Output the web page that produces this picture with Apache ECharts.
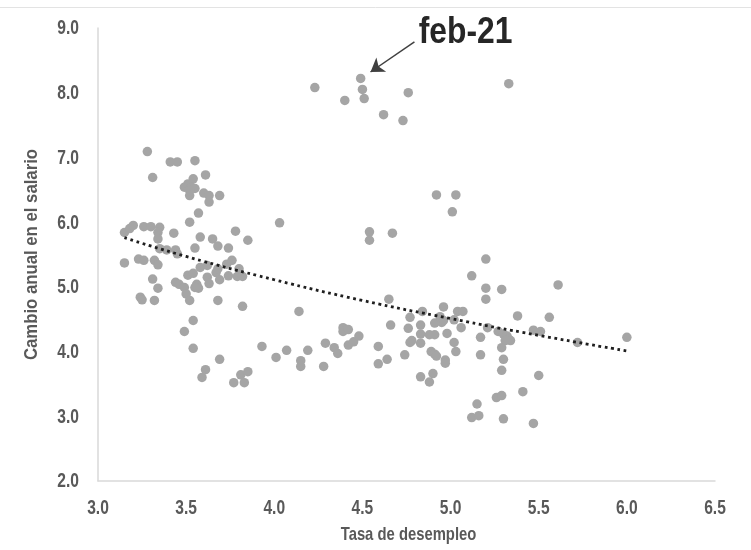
<!DOCTYPE html>
<html>
<head>
<meta charset="utf-8">
<script src="https://cdn.jsdelivr.net/npm/echarts@6/dist/echarts.min.js"></script>
<style>
html,body{margin:0;padding:0;background:#fff;}
#chart{width:751px;height:550px;}
</style>
</head>
<body>
<div id="chart"></div>
<script>
// Tasa de desempleo (x) and Cambio anual en el salario (y)
var unemp = [
3.28,3.41,3.45,3.55,3.31,3.54,3.61,3.49,3.51,3.53,3.55,3.52,3.52,3.60,3.63,3.63,3.69,3.57,3.52,3.15,
3.18,3.20,3.26,3.30,3.35,3.34,3.34,3.43,3.58,3.65,3.68,3.74,3.78,3.85,3.55,3.35,3.39,3.44,3.45,3.15,
3.23,3.26,3.32,3.34,3.51,3.54,3.58,3.62,3.67,3.68,3.73,3.76,3.80,3.74,3.79,3.82,3.62,3.63,3.69,3.31,
3.34,3.44,3.46,3.49,3.50,3.52,3.56,3.57,3.55,3.24,3.25,3.32,3.68,3.82,3.54,3.49,3.54,3.93,3.69,3.61,
3.59,3.77,3.83,3.81,3.85,4.49,4.23,4.50,4.51,4.40,4.76,4.62,4.73,4.92,5.03,5.33,5.01,4.03,4.54,4.54,
4.67,4.65,4.14,4.01,4.07,4.15,4.15,4.19,4.28,4.29,4.34,4.36,4.39,4.39,4.42,4.42,4.45,4.48,4.59,4.59,
4.64,4.66,4.74,4.77,4.76,4.84,4.77,4.78,4.83,4.83,4.83,4.83,4.88,4.90,4.88,4.91,4.91,4.95,4.89,4.91,
4.92,4.96,4.94,4.96,4.98,4.97,4.97,5.02,5.03,5.04,5.02,5.06,5.20,5.12,5.20,5.20,5.29,5.61,5.07,5.17,
5.17,5.21,5.27,5.30,5.32,5.33,5.34,5.31,5.29,5.30,5.29,5.38,5.47,5.51,5.56,5.72,6.00,5.50,5.41,5.15,
5.12,5.16,5.26,5.29,5.30,5.47
];
var wage = [
7.09,6.93,6.93,6.95,6.69,6.67,6.73,6.54,6.59,6.54,6.52,6.49,6.41,6.45,6.41,6.31,6.41,6.14,6.00,5.84,
5.90,5.95,5.93,5.93,5.92,5.84,5.74,5.83,5.77,5.74,5.63,5.60,5.86,5.72,5.60,5.59,5.57,5.57,5.51,5.37,
5.43,5.41,5.41,5.34,5.18,5.21,5.30,5.33,5.22,5.28,5.35,5.41,5.28,5.17,5.16,5.16,5.15,5.05,5.11,5.12,
4.98,5.07,5.04,4.99,4.89,4.79,5.04,4.98,4.99,4.84,4.80,4.79,4.79,4.70,4.48,4.31,4.05,4.08,3.88,3.72,
3.60,3.52,3.52,3.64,3.69,8.22,8.08,8.05,7.91,7.88,8.00,7.66,7.57,6.42,6.42,8.14,6.16,5.99,5.85,5.72,
5.83,4.81,4.62,3.91,4.02,3.86,3.77,4.02,3.77,4.13,4.06,3.97,4.37,4.31,4.34,4.10,4.15,4.24,4.08,3.81,
3.88,4.41,3.95,4.53,4.36,4.62,4.14,4.17,4.41,4.27,4.13,3.61,3.53,3.66,4.26,4.26,4.44,4.45,4.00,3.96,
3.93,4.69,4.54,4.48,4.28,3.87,3.82,4.14,4.00,4.62,4.49,4.37,5.43,5.17,4.98,4.81,4.96,5.03,4.62,4.22,
3.95,4.37,4.31,4.27,4.24,4.19,4.17,4.17,4.06,3.88,3.71,4.55,4.33,4.31,4.53,4.14,4.22,3.63,3.38,3.19,
2.98,3.01,3.29,3.32,2.96,2.89
];
// Dotted trend line
var trendX = [3.15, 3.5, 4.0, 4.5, 5.0, 5.5, 6.0];
var trendY = [5.76, 5.47, 5.11, 4.79, 4.51, 4.25, 4.01];
// Tick labels
var xTicks = ['3.0', '3.5', '4.0', '4.5', '5.0', '5.5', '6.0', '6.5'];
var yTicks = ['2.0', '3.0', '4.0', '5.0', '6.0', '7.0', '8.0', '9.0'];
var xName = 'Tasa de desempleo';
var yName = 'Cambio anual en el salario';
// Annotation
var noteText = 'feb-21';
var noteArrowFrom = [4.795, 8.785];
var noteArrowTo = [4.546, 8.32];
var noteTextAt = [5.085, 8.93];

var FAM = "'Liberation Sans', Arial, sans-serif";
var LABEL_COLOR = '#595959';

var points = unemp.map(function (x, i) { return [x, wage[i]]; });
var trend = trendX.map(function (x, i) { return [x, trendY[i]]; });
var xMin = parseFloat(xTicks[0]), xMax = parseFloat(xTicks[xTicks.length - 1]);
var yMin = parseFloat(yTicks[0]), yMax = parseFloat(yTicks[yTicks.length - 1]);

var chart = echarts.init(document.getElementById('chart'), null, {renderer: 'canvas'});
chart.setOption({
  animation: false,
  backgroundColor: '#fff',
  grid: {left: 98, right: 36, top: 28, bottom: 69, containLabel: false},
  xAxis: {
    type: 'value', min: xMin, max: xMax, interval: 0.5,
    axisLine: {show: true, onZero: false, lineStyle: {color: '#d9d9d9', width: 1.5}},
    axisTick: {show: false},
    splitLine: {show: false},
    axisLabel: {show: false}
  },
  yAxis: {
    type: 'value', min: yMin, max: yMax, interval: 1.0,
    axisLine: {show: true, lineStyle: {color: '#d9d9d9', width: 1.5}},
    axisTick: {show: false},
    splitLine: {show: false},
    axisLabel: {show: false}
  },
  series: [{
    type: 'scatter',
    data: points,
    symbol: 'circle',
    symbolSize: 9.5,
    itemStyle: {color: '#a5a5a5', opacity: 1},
    z: 2,
    markLine: {
      silent: true,
      symbol: ['none', 'arrow'],
      symbolSize: 13,
      label: {show: false},
      lineStyle: {color: '#404040', width: 1.5, type: 'solid'},
      data: [[{coord: noteArrowFrom}, {coord: noteArrowTo}]]
    }
  }, {
    type: 'line',
    data: trend,
    smooth: true,
    symbol: 'none',
    z: 3,
    lineStyle: {color: '#1f1f1f', width: 2.8, type: [2.8, 3.6]}
  }]
});

// Narrow (condensed) text drawn at positions given by the chart's own scales
function px(v) { return chart.convertToPixel({gridIndex: 0}, v); }
var g = [{
  type: 'line', shape: {x1: 0, y1: 7.5, x2: 751, y2: 7.5},
  style: {stroke: '#e3e3e3', lineWidth: 1}, silent: true
}];
var origin = px([xMin, yMin]);
var topRight = px([xMax, yMax]);
xTicks.forEach(function (t) {
  var p = px([parseFloat(t), yMin]);
  g.push({type: 'text', x: p[0], y: origin[1] + 28, scaleX: 0.8, silent: true,
    style: {text: t, font: 'bold 19.5px ' + FAM, fill: LABEL_COLOR, align: 'center', verticalAlign: 'middle'}});
});
yTicks.forEach(function (t) {
  var p = px([xMin, parseFloat(t)]);
  g.push({type: 'text', x: origin[0] - 19, y: p[1] + 1, scaleX: 0.8, silent: true,
    style: {text: t, font: 'bold 19.5px ' + FAM, fill: LABEL_COLOR, align: 'right', verticalAlign: 'middle'}});
});
g.push({type: 'text', x: (origin[0] + topRight[0]) / 2 + 2, y: origin[1] + 54, scaleX: 0.78, silent: true,
  style: {text: xName, font: 'bold 19px ' + FAM, fill: LABEL_COLOR, align: 'center', verticalAlign: 'middle'}});
g.push({type: 'text', x: origin[0] - 66, y: (origin[1] + topRight[1]) / 2, rotation: Math.PI / 2, scaleX: 0.9, silent: true,
  style: {text: yName, font: 'bold 18.6px ' + FAM, fill: LABEL_COLOR, align: 'center', verticalAlign: 'middle'}});
var np = px(noteTextAt);
g.push({type: 'text', x: np[0], y: np[1], scaleX: 0.86, silent: true,
  style: {text: noteText, font: 'bold 37px ' + FAM, fill: '#262626', align: 'center', verticalAlign: 'middle'}});
chart.setOption({graphic: g});
</script>
</body>
</html>
